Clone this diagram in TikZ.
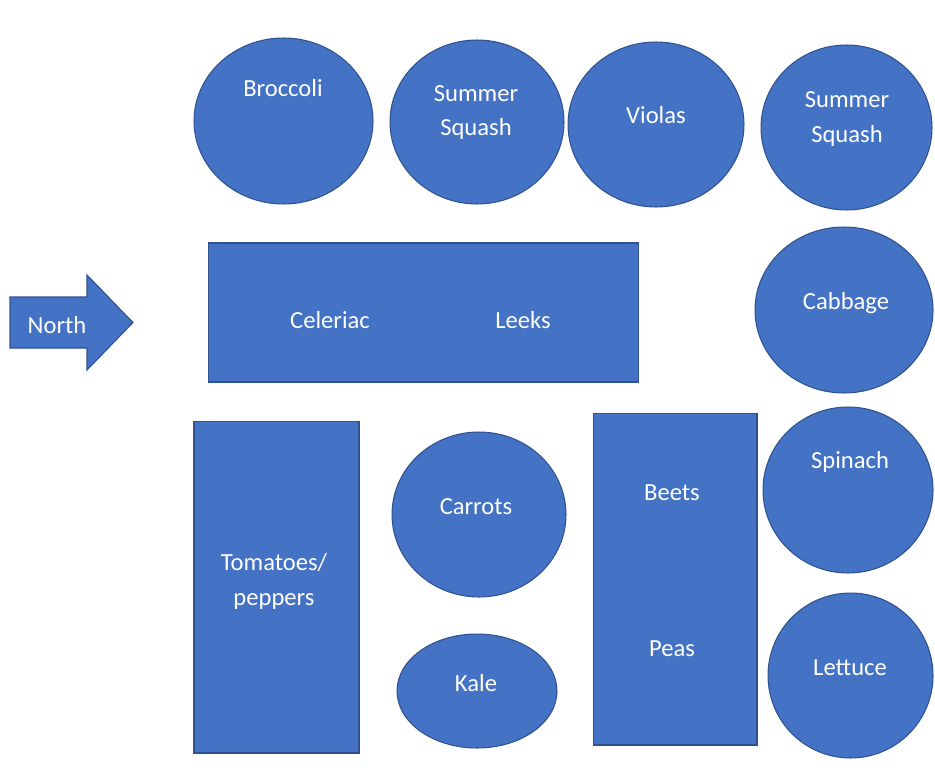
\documentclass[tikz,border=0pt]{standalone}
\usepackage{fontspec}
\setmainfont{Carlito}
\usetikzlibrary{shapes.geometric}
\definecolor{bedfill}{HTML}{4472C4}
\definecolor{bededge}{HTML}{2F528F}

\begin{document}
\begin{tikzpicture}[x=0.02cm,y=-0.02cm,
    bed/.style={fill=bedfill,draw=bededge,line width=0.6pt},
    roundbed/.style={bed,ellipse,inner sep=0pt},
    longbed/.style={bed,rectangle,inner sep=0pt},
    crop/.style={text=white,font=\fontsize{14}{19.5}\selectfont,align=center,inner sep=0pt}]
  \useasboundingbox (0,0) rectangle (935,777);

  % arrow pointing north
  \draw[bed] (10,297) -- (87,297) -- (87,275) -- (133,322.5) -- (87,370) -- (87,348) -- (10,348) -- cycle;
  \node[crop,anchor=base] (north) at (57,333) {North};

  % top row of round beds
  \node[roundbed,minimum width=3.58cm,minimum height=3.32cm] (broccoli) at (283.5,121) {};
  \node[roundbed,minimum width=3.48cm,minimum height=3.28cm] (squashA) at (477,122) {};
  \node[roundbed,minimum width=3.52cm,minimum height=3.30cm] (violas) at (656,124.5) {};
  \node[roundbed,minimum width=3.42cm,minimum height=3.30cm] (squashB) at (846.5,127.5) {};
  \node[crop,anchor=base] (t-broccoli) at (283,96) {Broccoli};
  \node[crop] (t-squashA) at (476,112.5) {Summer\\Squash};
  \node[crop,anchor=base] (t-violas) at (656,123) {Violas};
  \node[crop] (t-squashB) at (847,119) {Summer\\Squash};

  % middle row
  \node[longbed,minimum width=8.62cm,minimum height=2.78cm] (rowbed) at (423.5,312.5) {};
  \node[crop,anchor=base] (t-celeriac) at (330,328) {Celeriac};
  \node[crop,anchor=base] (t-leeks) at (523,328) {Leeks};
  \node[roundbed,minimum width=3.56cm,minimum height=3.32cm] (cabbage) at (844,310) {};
  \node[crop,anchor=base] (t-cabbage) at (846,309) {Cabbage};

  % bottom row
  \node[longbed,minimum width=3.30cm,minimum height=6.64cm] (tomatoes) at (276.5,587) {};
  \node[crop] (t-tomatoes) at (274,581.5) {Tomatoes/\\peppers};
  \node[roundbed,minimum width=3.48cm,minimum height=3.30cm] (carrots) at (479,514.5) {};
  \node[crop,anchor=base] (t-carrots) at (476,514) {Carrots};
  \node[roundbed,minimum width=3.20cm,minimum height=2.28cm] (kale) at (477,691) {};
  \node[crop,anchor=base] (t-kale) at (476,691) {Kale};
  \node[longbed,minimum width=3.28cm,minimum height=6.64cm] (beetbed) at (675,579) {};
  \node[crop,anchor=base] (t-beets) at (672,500) {Beets};
  \node[crop,anchor=base] (t-peas) at (672,656) {Peas};
  \node[roundbed,minimum width=3.40cm,minimum height=3.32cm] (spinach) at (848,490) {};
  \node[crop,anchor=base] (t-spinach) at (850,468) {Spinach};
  \node[roundbed,minimum width=3.30cm,minimum height=3.30cm] (lettuce) at (850.5,675.5) {};
  \node[crop,anchor=base] (t-lettuce) at (850,675) {Lettuce};
\end{tikzpicture}
\end{document}
